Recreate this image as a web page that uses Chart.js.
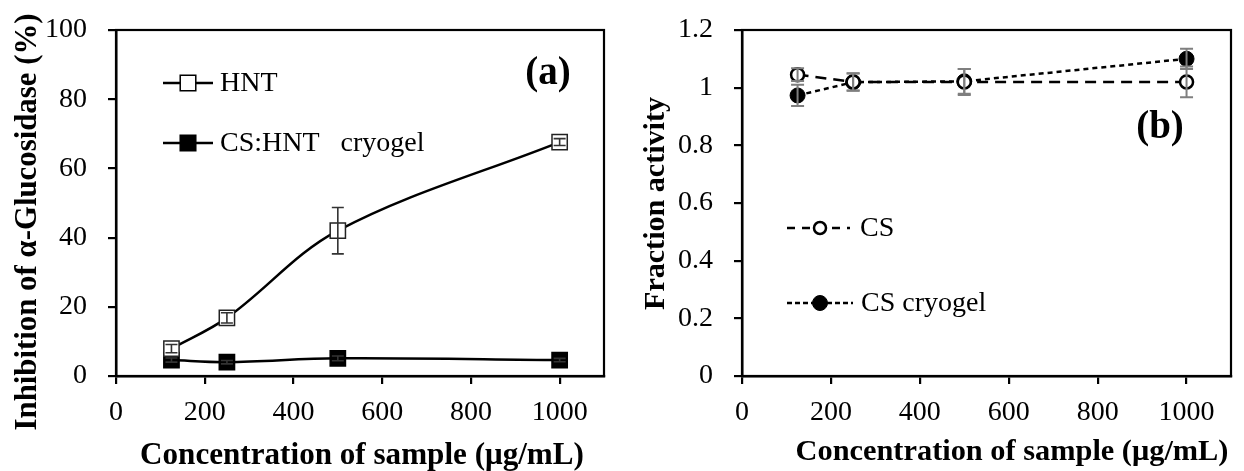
<!DOCTYPE html>
<html><head><meta charset="utf-8">
<script src="https://cdn.jsdelivr.net/npm/chart.js@4.4.0/dist/chart.umd.min.js"></script>
<style>
html,body{margin:0;padding:0;background:#fff;}
#wrap{position:relative;width:1244px;height:471px;overflow:hidden;background:#fff;}
.panel{position:absolute;top:0;height:471px;}
#pa{left:0;width:620px;}
#pb{left:620px;width:624px;}
canvas{display:block;}
</style></head><body>
<div id="wrap">
  <div class="panel" id="pa"><canvas id="ca" width="620" height="471"></canvas></div>
  <div class="panel" id="pb"><canvas id="cb" width="624" height="471"></canvas></div>
</div>
<script>
// ---------- data ----------
const concentrations = [125, 250, 500, 1000];
const xTickValues = [0, 200, 400, 600, 800, 1000];

const yTickValuesA = [0, 20, 40, 60, 80, 100];
const hntInhibition = [7.9, 16.8, 42.0, 67.6];
const hntError = [1.2, 1.5, 6.7, 1.0];
const cshntInhibition = [4.6, 4.0, 5.1, 4.6];
const cshntError = [0.6, 0.5, 0.7, 0.5];

const yTickValuesB = [0, 0.2, 0.4, 0.6, 0.8, 1, 1.2];
const csActivity = [1.045, 1.02, 1.02, 1.02];
const csError = [0.022, 0.03, 0.045, 0.053];
const csCryoActivity = [0.973, 1.019, 1.022, 1.10];
const csCryoError = [0.037, 0.03, 0.043, 0.035];

const labelsA = ['HNT', 'CS:HNT   cryogel'];
const labelsB = ['CS', 'CS cryogel'];
const xTitle = 'Concentration of sample (\u03bcg/mL)';
const yTitleA = 'Inhibition of \u03b1-Glucosidase (%)';
const yTitleB = 'Fraction activity';
const panelA = '(a)';
const panelB = '(b)';

// ---------- helpers ----------
const FAMILY = "'Liberation Serif','Times New Roman',Times,serif";
const toXY = (vals) => concentrations.map((c, i) => ({x: c, y: vals[i]}));

function fitSize(ctx, text, target, weight) {
  ctx.font = weight + ' 100px ' + FAMILY;
  return 100 * target / ctx.measureText(text).width;
}

function drawMarker(ctx, style, x, y, r, fill, stroke, lw) {
  ctx.save();
  ctx.setLineDash([]);
  ctx.beginPath();
  if (style === 'rect') {
    const s = r * Math.SQRT1_2;
    ctx.rect(x - s, y - s, 2 * s, 2 * s);
  } else {
    ctx.arc(x, y, r, 0, Math.PI * 2);
  }
  ctx.fillStyle = fill; ctx.fill();
  ctx.strokeStyle = stroke; ctx.lineWidth = lw; ctx.stroke();
  ctx.restore();
}

function makeDecor(cfg) {
  return {
    id: 'decor',
    afterDatasetsDraw(chart) {
      const ctx = chart.ctx, xs = chart.scales.x, ys = chart.scales.y;
      ctx.save();
      cfg.errorSets.forEach(es => {
        ctx.strokeStyle = es.color; ctx.lineWidth = es.width; ctx.setLineDash([]);
        es.values.forEach((v, i) => {
          const x = xs.getPixelForValue(concentrations[i]);
          const y1 = ys.getPixelForValue(v + es.errors[i]);
          const y2 = ys.getPixelForValue(v - es.errors[i]);
          ctx.beginPath();
          ctx.moveTo(x, y1); ctx.lineTo(x, y2);
          ctx.moveTo(x - es.cap, y1); ctx.lineTo(x + es.cap, y1);
          ctx.moveTo(x - es.cap, y2); ctx.lineTo(x + es.cap, y2);
          ctx.stroke();
        });
      });
      ctx.restore();
    },
    afterDraw(chart) {
      const ctx = chart.ctx, a = chart.chartArea;
      ctx.save();
      // plot frame
      ctx.strokeStyle = '#000'; ctx.lineWidth = 2.2; ctx.setLineDash([]);
      ctx.strokeRect(a.left, a.top, a.right - a.left, a.bottom - a.top);
      // legend
      cfg.legend.forEach(it => {
        const y = a.top + it.dy;
        ctx.save();
        ctx.strokeStyle = '#000'; ctx.lineWidth = 2.5;
        ctx.setLineDash(it.dash);
        ctx.beginPath();
        ctx.moveTo(a.left + it.x0, y); ctx.lineTo(a.left + it.x1, y);
        ctx.stroke();
        ctx.restore();
        drawMarker(ctx, it.style, a.left + it.xm, y, it.r, it.fill, '#000', it.lw);
        ctx.fillStyle = '#000';
        ctx.font = '28px ' + FAMILY;
        ctx.textAlign = 'left'; ctx.textBaseline = 'middle';
        ctx.fillText(it.text, a.left + it.xt, y + 1);
      });
      // panel label
      ctx.fillStyle = '#000';
      ctx.font = 'bold 39px ' + FAMILY;
      ctx.textAlign = 'center'; ctx.textBaseline = 'middle';
      ctx.fillText(cfg.panel.text, cfg.panel.x, cfg.panel.y);
      // x title
      let sz = fitSize(ctx, xTitle, cfg.xTitle.w, 'bold');
      ctx.font = 'bold ' + sz.toFixed(2) + 'px ' + FAMILY;
      ctx.textAlign = 'center'; ctx.textBaseline = 'middle';
      ctx.fillText(xTitle, cfg.xTitle.x, cfg.xTitle.y);
      // y title
      sz = fitSize(ctx, cfg.yTitle.text, cfg.yTitle.w, 'bold');
      ctx.font = 'bold ' + sz.toFixed(2) + 'px ' + FAMILY;
      ctx.translate(cfg.yTitle.x, cfg.yTitle.y);
      ctx.rotate(-Math.PI / 2);
      ctx.textAlign = 'center'; ctx.textBaseline = 'middle';
      ctx.fillText(cfg.yTitle.text, 0, 0);
      ctx.restore();
    }
  };
}

function axes(yTicks, yMin, yMax, yWidth, fmt) {
  const tickFont = {family: FAMILY, size: 28};
  return {
    x: {
      type: 'linear', min: 0, max: 1100,
      afterBuildTicks: s => { s.ticks = xTickValues.map(v => ({value: v})); },
      afterFit: s => { s.height = 95; s.paddingLeft = 0; s.paddingRight = 0; },
      ticks: {font: tickFont, color: '#000', padding: 12, maxRotation: 0, autoSkip: false,
              callback: v => String(v)},
      grid: {display: true, drawOnChartArea: false, drawTicks: true, tickLength: 8, color: '#000', lineWidth: 2.2},
      border: {display: true, color: '#000', width: 2.5},
      title: {display: false}
    },
    y: {
      type: 'linear', min: yMin, max: yMax,
      afterBuildTicks: s => { s.ticks = yTicks.map(v => ({value: v})); },
      afterFit: s => { s.width = yWidth; s.paddingTop = 0; s.paddingBottom = 0; },
      ticks: {font: tickFont, color: '#000', padding: 21, autoSkip: false, callback: fmt},
      grid: {display: true, drawOnChartArea: false, drawTicks: true, tickLength: 8, color: '#000', lineWidth: 2.2},
      border: {display: true, color: '#000', width: 2.5},
      title: {display: false}
    }
  };
}

const common = {
  responsive: false, animation: false, devicePixelRatio: 1,
  plugins: {legend: {display: false}, tooltip: {enabled: false}},
};

// ---------- chart (a) ----------
new Chart(document.getElementById('ca'), {
  type: 'line',
  data: {
    datasets: [
      {label: labelsA[0], data: toXY(hntInhibition), borderColor: '#000', borderWidth: 2.5,
       tension: 0.35, pointStyle: 'rect', pointRadius: 10.8, pointBackgroundColor: '#fff',
       pointBorderColor: '#222', pointBorderWidth: 1.5, fill: false},
      {label: labelsA[1], data: toXY(cshntInhibition), borderColor: '#000', borderWidth: 2.5,
       tension: 0.35, pointStyle: 'rect', pointRadius: 10.8, pointBackgroundColor: '#000',
       pointBorderColor: '#000', pointBorderWidth: 1.5, fill: false}
    ]
  },
  options: Object.assign({}, common, {
    layout: {padding: {top: 30, right: 16, left: 0, bottom: 0}},
    scales: axes(yTickValuesA, 0, 100, 116, v => String(v))
  }),
  plugins: [makeDecor({
    errorSets: [
      {values: hntInhibition, errors: hntError, color: '#333', width: 1.6, cap: 6},
      {values: cshntInhibition, errors: cshntError, color: '#333', width: 1.6, cap: 6}
    ],
    legend: [
      {text: labelsA[0], dy: 53, x0: 47, x1: 97, xm: 72, xt: 104, style: 'rect', r: 11, fill: '#fff', lw: 1.5, dash: []},
      {text: labelsA[1], dy: 113, x0: 47, x1: 97, xm: 72, xt: 104, style: 'rect', r: 11, fill: '#000', lw: 1.5, dash: []}
    ],
    panel: {text: panelA, x: 548, y: 74},
    xTitle: {x: 362, y: 456, w: 444},
    yTitle: {text: yTitleA, x: 28, y: 222, w: 417}
  })]
});

// ---------- chart (b) ----------
new Chart(document.getElementById('cb'), {
  type: 'line',
  data: {
    datasets: [
      {label: labelsB[0], data: toXY(csActivity), borderColor: '#000', borderWidth: 2.5,
       borderDash: [11, 7], tension: 0, pointStyle: 'circle', pointRadius: 6.5,
       pointBackgroundColor: '#fff', pointBorderColor: '#000', pointBorderWidth: 2.5, fill: false},
      {label: labelsB[1], data: toXY(csCryoActivity), borderColor: '#000', borderWidth: 2.5,
       borderDash: [5, 4], tension: 0, pointStyle: 'circle', pointRadius: 7.5,
       pointBackgroundColor: '#000', pointBorderColor: '#000', pointBorderWidth: 1, fill: false}
    ]
  },
  options: Object.assign({}, common, {
    layout: {padding: {top: 30, right: 13, left: 0, bottom: 0}},
    scales: axes(yTickValuesB, 0, 1.2, 122, v => String(v))
  }),
  plugins: [makeDecor({
    errorSets: [
      {values: csActivity, errors: csError, color: '#7f7f7f', width: 2, cap: 6.5},
      {values: csCryoActivity, errors: csCryoError, color: '#7f7f7f', width: 2, cap: 6.5}
    ],
    legend: [
      {text: labelsB[0], dy: 198, x0: 45, x1: 108, xm: 78, xt: 118, style: 'circle', r: 6, fill: '#fff', lw: 2.5, dash: [8, 7]},
      {text: labelsB[1], dy: 273, x0: 45, x1: 111, xm: 78, xt: 119, style: 'circle', r: 7.5, fill: '#000', lw: 1, dash: [5, 3]}
    ],
    panel: {text: panelB, x: 540, y: 128},
    xTitle: {x: 392, y: 452, w: 433},
    yTitle: {text: yTitleB, x: 36.5, y: 203.5, w: 213}
  })]
});
</script>
</body></html>
